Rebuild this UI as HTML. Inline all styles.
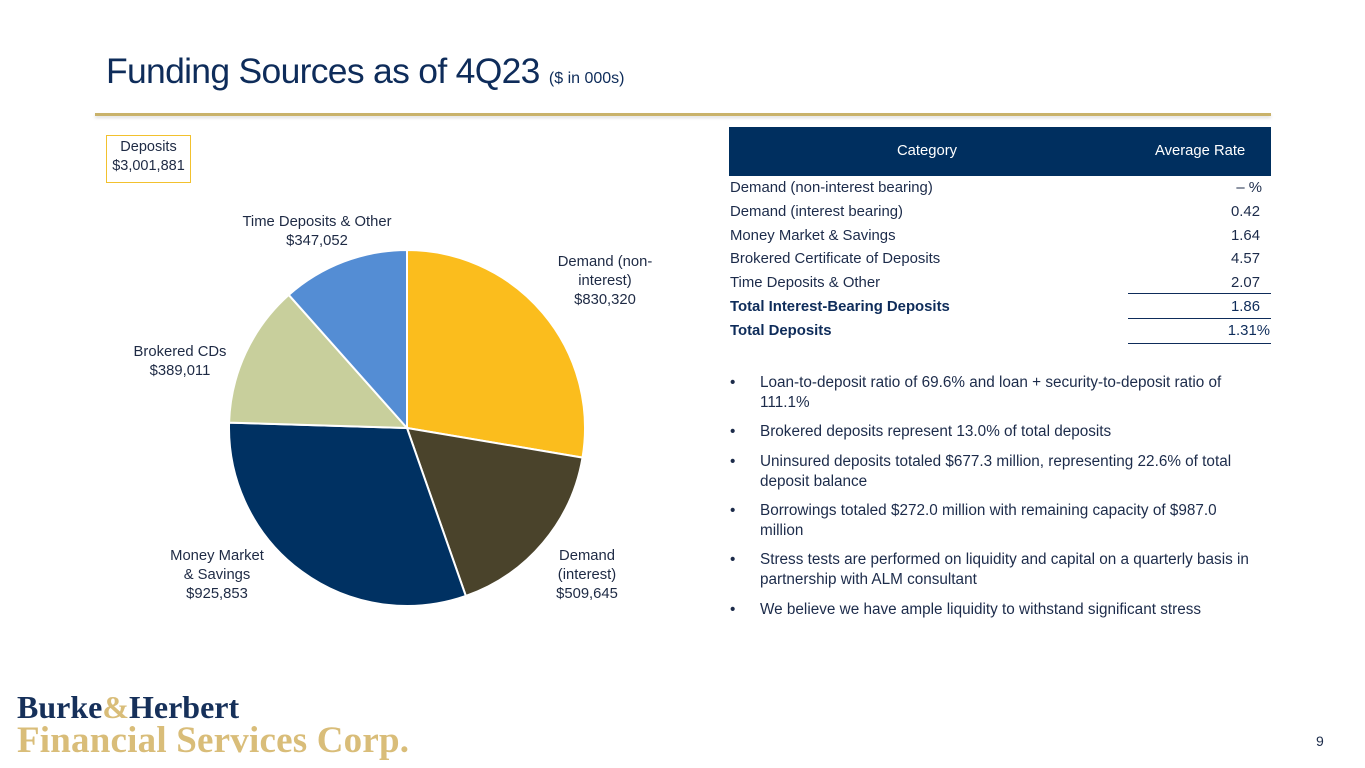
<!DOCTYPE html>
<html><head><meta charset="utf-8">
<style>
body{margin:0;width:1365px;height:768px;background:#fff;position:relative;overflow:hidden;font-family:"Liberation Sans",sans-serif;color:#0d2a4f}
.abs{position:absolute}
.lbl{position:absolute;font-size:14.8px;color:#1e2a44;text-align:center;line-height:19px;white-space:nowrap;transform:translateX(-50%)}
.row{position:absolute;left:730px;width:530px;font-size:14.9px;color:#1c2b4a;height:20px}
.row span.v{position:absolute;right:0}
.bul{position:absolute;left:760px;width:540px;font-size:15.3px;color:#1c2b4a;line-height:20px}
.bul:before{content:"•";position:absolute;left:-30px}
</style></head><body>
<div class="abs" style="left:106px;top:51px;font-size:35.5px;color:#0e2c5a;letter-spacing:-0.7px">Funding Sources as of 4Q23 <span style="font-size:16px;letter-spacing:0">($ in 000s)</span></div>
<div class="abs" style="left:95px;top:113px;width:1176px;height:3px;background:#c9b26a;box-shadow:0 2px 3px #ddd"></div>

<div class="abs" style="left:106px;top:135px;width:83px;height:44px;border:1px solid #f2c12e;font-size:14.5px;text-align:center;line-height:19px;color:#1e2a44;padding-top:2px">Deposits<br>$3,001,881</div>

<svg class="abs" style="left:0;top:0" width="700" height="680" id="pie"></svg>
<div class="lbl" style="left:317px;top:213px">Time Deposits &amp; Other<br>$347,052</div>
<div class="lbl" style="left:605px;top:253px">Demand (non-<br>interest)<br>$830,320</div>
<div class="lbl" style="left:180px;top:343px">Brokered CDs<br>$389,011</div>
<div class="lbl" style="left:217px;top:547px">Money Market<br>&amp; Savings<br>$925,853</div>
<div class="lbl" style="left:587px;top:547px">Demand<br>(interest)<br>$509,645</div>

<div class="abs" style="left:729px;top:127px;width:542px;height:49px;background:#002f5f;color:#fff;font-size:14.8px">
<span class="abs" style="left:168px;top:16px">Category</span><span class="abs" style="left:426px;top:16px">Average Rate</span></div>
<div class="row" style="top:180px">Demand (non-interest bearing)<span class="v" style="right:-2px">– %</span></div>
<div class="row" style="top:204px">Demand (interest bearing)<span class="v">0.42</span></div>
<div class="row" style="top:228px">Money Market &amp; Savings<span class="v">1.64</span></div>
<div class="row" style="top:251px">Brokered Certificate of Deposits<span class="v">4.57</span></div>
<div class="row" style="top:275px">Time Deposits &amp; Other<span class="v">2.07</span></div>
<div class="row" style="top:299px;font-weight:bold;color:#0e2c5a">Total Interest-Bearing Deposits<span class="v" style="font-weight:normal">1.86</span></div>
<div class="row" style="top:323px;font-weight:bold;color:#0e2c5a">Total Deposits<span class="v" style="font-weight:normal;right:-10px">1.31%</span></div>
<div class="abs" style="left:1128px;top:293px;width:143px;height:1px;background:#0e2c5a"></div>
<div class="abs" style="left:1128px;top:318px;width:143px;height:1px;background:#0e2c5a"></div>
<div class="abs" style="left:1128px;top:343px;width:143px;height:1px;background:#0e2c5a"></div>

<div class="bul" style="top:373px">Loan-to-deposit ratio of 69.6% and loan + security-to-deposit ratio of<br>111.1%</div>
<div class="bul" style="top:422px">Brokered deposits represent 13.0% of total deposits</div>
<div class="bul" style="top:452px">Uninsured deposits totaled $677.3 million, representing 22.6% of total<br>deposit balance</div>
<div class="bul" style="top:501px">Borrowings totaled $272.0 million with remaining capacity of $987.0<br>million</div>
<div class="bul" style="top:550px">Stress tests are performed on liquidity and capital on a quarterly basis in<br>partnership with ALM consultant</div>
<div class="bul" style="top:600px">We believe we have ample liquidity to withstand significant stress</div>

<div class="abs" style="left:17px;top:691px;font-family:'Liberation Serif',serif;font-weight:bold;line-height:33px;letter-spacing:0px">
<div style="font-size:32px;color:#16305a">Burke<span style="color:#d9bd79">&amp;</span>Herbert</div>
<div style="font-size:37px;color:#d9bd79;letter-spacing:0.2px">Financial Services Corp.</div></div>
<div class="abs" style="left:1316px;top:733px;font-size:14px;color:#1c2b4a">9</div>

<script>
const categories=["Demand (non-interest)","Demand (interest)","Money Market & Savings","Brokered CDs","Time Deposits & Other"];
const values=[830320,509645,925853,389011,347052];
const colors=["#fbbd1d","#4a432b","#003162","#c8cf9c","#548dd4"];
const svg=document.getElementById('pie');
const cx=407,cy=428,r=178;
const total=values.reduce((a,b)=>a+b,0);
let a0=0;
values.forEach((v,i)=>{
  const a1=a0+v/total*2*Math.PI;
  const x0=cx+r*Math.sin(a0),y0=cy-r*Math.cos(a0),x1=cx+r*Math.sin(a1),y1=cy-r*Math.cos(a1);
  const p=document.createElementNS('http://www.w3.org/2000/svg','path');
  p.setAttribute('d',`M${cx},${cy}L${x0},${y0}A${r},${r} 0 ${a1-a0>Math.PI?1:0} 1 ${x1},${y1}Z`);
  p.setAttribute('fill',colors[i]);p.setAttribute('stroke','#fff');p.setAttribute('stroke-width','2');
  
  
  svg.appendChild(p);
  a0=a1;
});
</script>
</body></html>
